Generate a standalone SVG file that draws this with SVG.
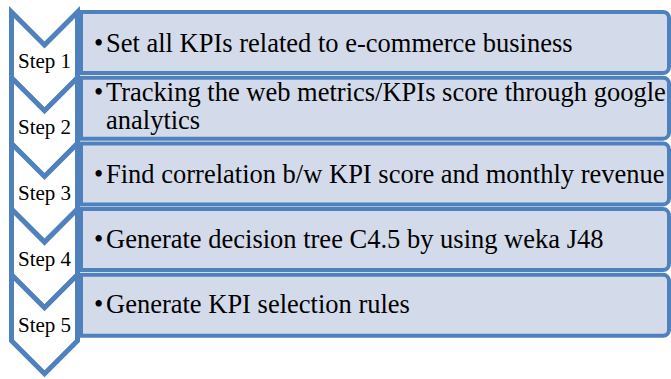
<svg xmlns="http://www.w3.org/2000/svg" width="671" height="379" viewBox="0 0 671 379">
  <style>
    .chev { fill: #FFFFFF; stroke: #4F81BD; stroke-width: 5; stroke-linejoin: miter; }
    .box { fill: #D3DAEA; stroke: #4F81BD; stroke-width: 4; }
    .step { font-family: "Liberation Serif", "Times New Roman", serif; font-size: 21px; fill: #000000; text-anchor: middle; }
    .item { font-family: "Liberation Serif", "Times New Roman", serif; font-size: 26.5px; fill: #000000; }
  </style>
  <defs>
    <!-- chevron pointing down, notch at top; origin at top-left corner -->
    <path id="chevronShape" d="M11.5,0 L44.5,33 L77.5,0 L77.5,66 L44.5,99 L11.5,66 Z"/>
    <!-- item panel: square left side, rounded right side -->
    <path id="panelShape" d="M81,0 H663 A6,6 0 0 1 669,6 V55 A6,6 0 0 1 663,61 H81 Z"/>
  </defs>

  <g id="step1">
    <use href="#chevronShape" class="chev" transform="translate(0,12)"/>
    <text class="step" x="44.5" y="68">Step 1</text>
  </g>
  <g id="item1">
    <use href="#panelShape" class="box" transform="translate(0,12)"/>
    <text class="item" x="94" y="52">•</text>
    <text class="item" x="106" y="52">Set all KPIs related to e-commerce business</text>
  </g>

  <g id="step2">
    <use href="#chevronShape" class="chev" transform="translate(0,77.7)"/>
    <text class="step" x="44.5" y="134">Step 2</text>
  </g>
  <g id="item2">
    <use href="#panelShape" class="box" transform="translate(0,77.7)"/>
    <text class="item" x="94" y="101">•</text>
    <text class="item" x="106" y="101">Tracking the web metrics/KPIs score through google</text>
    <text class="item" x="106" y="129">analytics</text>
  </g>

  <g id="step3">
    <use href="#chevronShape" class="chev" transform="translate(0,143.4)"/>
    <text class="step" x="44.5" y="200">Step 3</text>
  </g>
  <g id="item3">
    <use href="#panelShape" class="box" transform="translate(0,143.4)"/>
    <text class="item" x="94" y="183">•</text>
    <text class="item" x="106" y="183">Find correlation b/w KPI score and monthly revenue</text>
  </g>

  <g id="step4">
    <use href="#chevronShape" class="chev" transform="translate(0,209.1)"/>
    <text class="step" x="44.5" y="266">Step 4</text>
  </g>
  <g id="item4">
    <use href="#panelShape" class="box" transform="translate(0,209.1)"/>
    <text class="item" x="94" y="248">•</text>
    <text class="item" x="106" y="248">Generate decision tree C4.5 by using weka J48</text>
  </g>

  <g id="step5">
    <use href="#chevronShape" class="chev" transform="translate(0,274.8)"/>
    <text class="step" x="44.5" y="332">Step 5</text>
  </g>
  <g id="item5">
    <use href="#panelShape" class="box" transform="translate(0,274.8)"/>
    <text class="item" x="94" y="313">•</text>
    <text class="item" x="106" y="313">Generate KPI selection rules</text>
  </g>

  <g id="connectors"></g>
</svg>
